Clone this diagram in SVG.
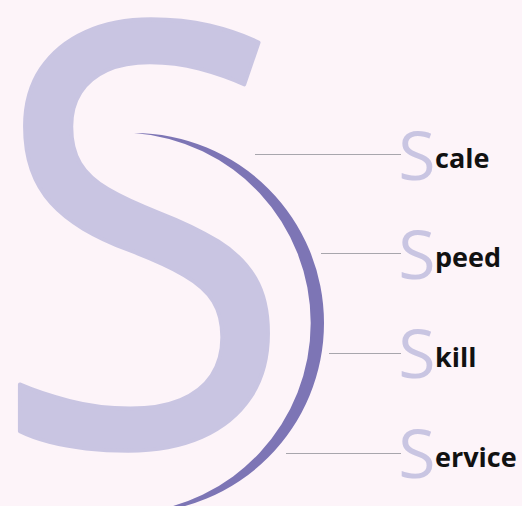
<svg xmlns="http://www.w3.org/2000/svg" width="522" height="506" viewBox="0 0 522 506">
  <style>
    .bigs { font-family: "Open Sans", "Noto Sans", sans-serif; font-size: 588px; fill: #c9c5e2; stroke: #c9c5e2; stroke-width: 4; stroke-linejoin: round; }
    .ini { font-family: "Open Sans", "Noto Sans", sans-serif; font-size: 68px; fill: #c9c5e2; text-anchor: middle; }
    .word { font-family: "Open Sans", "Noto Sans", sans-serif; font-size: 27px; font-weight: bold; fill: #111111; }
    .conn { stroke: #a8a6ad; stroke-width: 1.2; fill: none; }
    .arc { fill: #7d75b5; }
  </style>
  <rect width="522" height="506" fill="#fdf4f9"/>
  <g id="big-s">
    <text class="bigs" x="143" y="445" text-anchor="middle" transform="translate(143 0) scale(0.94 1) translate(-143 0)">S</text>
  </g>
  <g id="arc">
    <path class="arc" d="M 134 133 A 190 190 0 0 1 134 513 A 190.5 190.5 0 0 0 134 133 Z"/>
  </g>
  <g id="connectors">
    <line class="conn" x1="255" y1="154.5" x2="401" y2="154.5"/>
    <line class="conn" x1="321" y1="253.5" x2="401" y2="253.5"/>
    <line class="conn" x1="329" y1="353.5" x2="401" y2="353.5"/>
    <line class="conn" x1="286" y1="453.5" x2="401" y2="453.5"/>
  </g>
  <g id="label-scale">
    <text class="ini" x="417" y="180">S</text>
    <text class="word" x="435" y="168">cale</text>
  </g>
  <g id="label-speed">
    <text class="ini" x="417" y="279">S</text>
    <text class="word" x="435" y="267">peed</text>
  </g>
  <g id="label-skill">
    <text class="ini" x="417" y="378">S</text>
    <text class="word" x="435" y="367">kill</text>
  </g>
  <g id="label-service">
    <text class="ini" x="417" y="478">S</text>
    <text class="word" x="435" y="467">ervice</text>
  </g>
</svg>
